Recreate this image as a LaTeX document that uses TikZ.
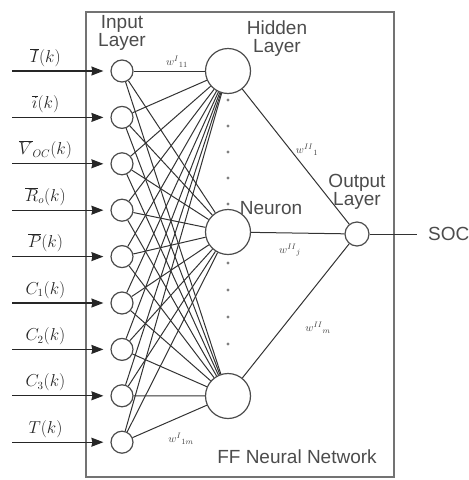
\documentclass[tikz,border=0pt]{standalone}
\usepackage{fontspec}
\setsansfont{Liberation Sans}
\usetikzlibrary{arrows.meta, positioning}

\begin{document}
\begin{tikzpicture}[
    x=1pt, y=-1pt, >=Stealth,
    frame/.style={draw=black!55, line width=1.6pt, minimum width=308pt, minimum height=465pt, inner sep=0pt},
    neuron/.style={circle, draw=black!70, line width=1.2pt, fill=white, inner sep=0pt},
    innode/.style={neuron, minimum size=22pt},
    hidnode/.style={neuron, minimum size=45pt},
    outnode/.style={neuron, minimum size=24pt},
    wire/.style={black!80, line width=1pt},
    arr/.style={->, black!85, line width=1.3pt, shorten >=7pt, >={Stealth[length=12pt, width=9pt, inset=1pt]}},
    layer/.style={font=\sffamily\fontsize{19}{18}\selectfont, text=black!70, align=center, inner sep=0pt},
    inlbl/.style={font=\fontsize{16}{18}\selectfont, inner sep=4pt},
    wlbl/.style={font=\fontsize{11}{13}\selectfont, text=black!75, inner sep=0pt},
]
\useasboundingbox (0,0) rectangle (469,480);
% ------------------------------------------------ frame and titles
\node[frame] (net) at (240,244.5) {};
\node[layer] (intitle) at (122,33) {Input\\Layer};
\node[layer] (hidtitle) at (277,39) {Hidden\\Layer};
\node[layer] (neutitle) at (271,208) {Neuron};
\node[layer] (outtitle) at (357,192) {Output\\Layer};
\node[layer] (nettitle) at (297,457) {FF Neural Network};
% ------------------------------------------------ layers
\node[hidnode] (h1) at (228,71) {};
\node[hidnode] (h2) at (228,232) {};
\node[hidnode] (h3) at (228,396) {};
\node[outnode] (o) at (357,234) {};
\foreach \i/\lab in {1/{$\overline{I}(k)$}, 2/{$\overline{i}(k)$}, 3/{$\overline{V}_{OC}(k)$},
                     4/{$\overline{R}_{o}(k)$}, 5/{$\overline{P}(k)$}, 6/{$C_1(k)$},
                     7/{$C_2(k)$}, 8/{$C_3(k)$}, 9/{$T(k)$}} {
  \node[innode] (in\i) at (122,71+46.4*\i-46.4) {};
  \coordinate (src\i) at (12,71+46.4*\i-46.4);
  \draw[arr] (src\i) -- node[inlbl, above, pos=0.34] {\lab} (in\i);
}
% every input to every hidden neuron
\foreach \i in {1,...,9} {
  \foreach \j in {1,2,3} {
    \draw[wire] (in\i) -- (h\j);
  }
}
\foreach \j in {1,2,3} {
  \draw[wire] (h\j) -- (o);
}
\node[layer, anchor=west, inner xsep=11pt] (soc) at (417,234) {SOC};
\draw[wire] (o) -- (soc);
% the neurons left out
\foreach \y in {100,126,152,178,204,263,290,317,344} {
  \fill[black!50] (228,\y) circle (1.6);
}
% ------------------------------------------------ weights
\node[wlbl] (w11) at (177,62) {$w^{I}{}_{11}$};
\node[wlbl] (w1m) at (181,439) {$w^{I}{}_{1m}$};
\node[wlbl] (v1) at (307,150) {$w^{II}{}_{1}$};
\node[wlbl] (vj) at (290,250) {$w^{II}{}_{j}$};
\node[wlbl] (vm) at (318,328) {$w^{II}{}_{m}$};
\end{tikzpicture}
\end{document}
